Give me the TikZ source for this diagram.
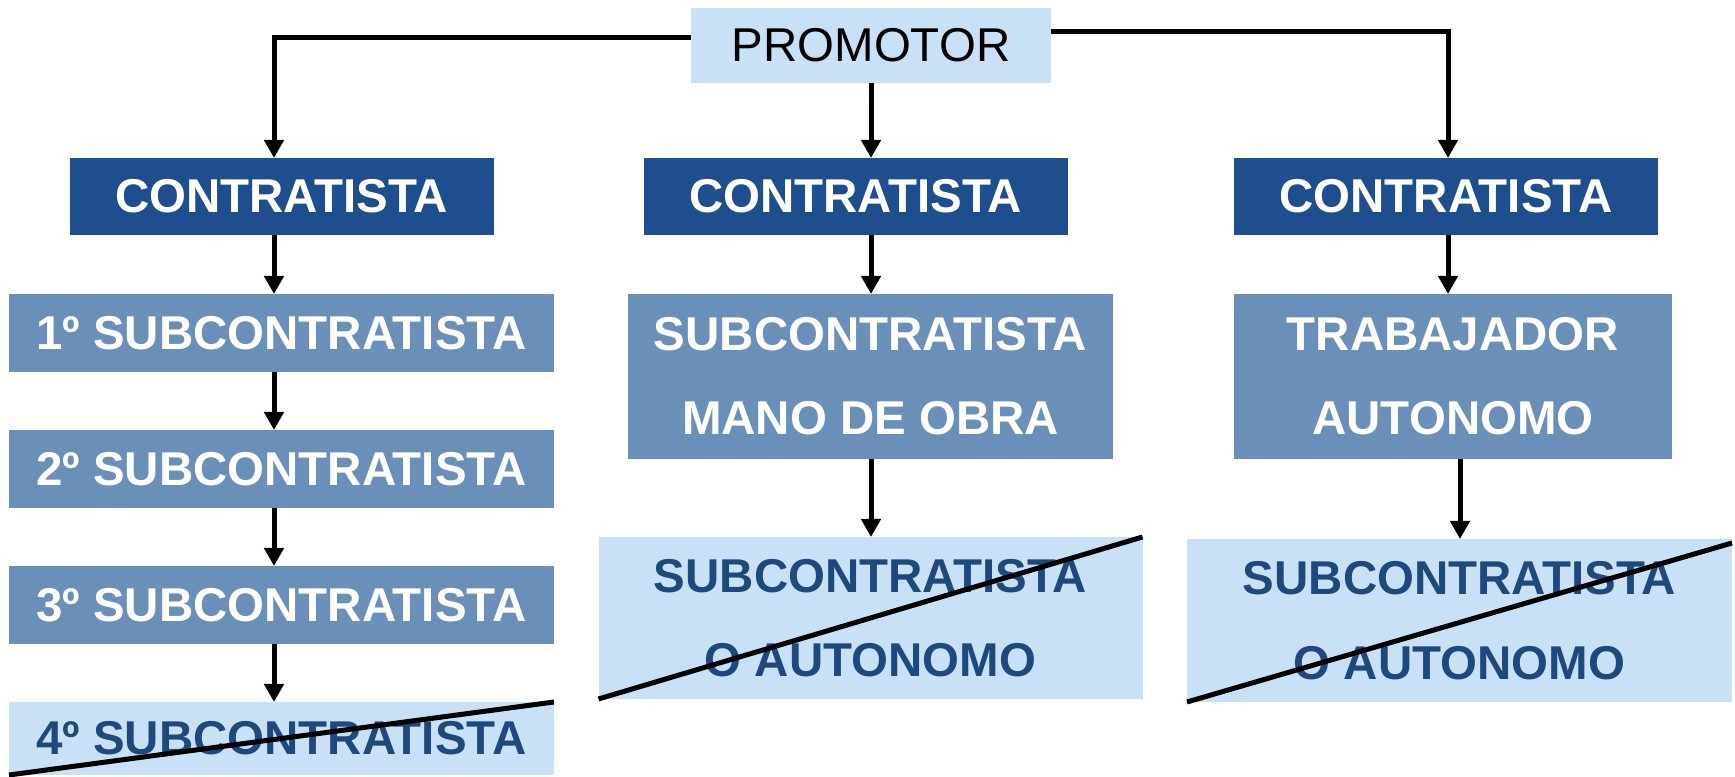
\documentclass[tikz,border=0pt]{standalone}
\usepackage{fontspec}
\setmainfont{Liberation Sans}
\usetikzlibrary{positioning,arrows.meta}
\definecolor{azulosc}{RGB}{31,78,142}
\definecolor{azulmed}{RGB}{106,143,185}
\definecolor{azulcla}{RGB}{201,225,247}
\definecolor{azultxt}{RGB}{31,73,125}

\begin{document}
\begin{tikzpicture}[
		every node/.style = {
			rectangle,
			minimum height=0.78cm,
			outer sep=0cm, inner sep=0cm,
			font=\fontsize{13.5pt}{24pt}\selectfont\bfseries,
			align=center
		},
		promo/.style = {fill=azulcla, font=\fontsize{13.5pt}{24pt}\selectfont},
		contra/.style = {fill=azulosc, text=white, minimum width=4.24cm, minimum height=0.77cm},
		subc/.style = {fill=azulmed, text=white},
		tachado/.style = {fill=azulcla, text=azultxt},
		>={Triangle[width=0.19cm,length=0.18cm]},
		line width=0.05cm
		]
		\useasboundingbox (0,0) rectangle (17.35,7.77);
		\node[promo, minimum width=3.60cm, minimum height=0.75cm] (prom) at (8.71,7.315) {PROMOTOR};
		\node[contra] (con1) at (2.815,5.805) {CONTRATISTA};
		\node[contra] (con2) at (8.555,5.805) {CONTRATISTA};
		\node[contra] (con3) at (14.46,5.805) {CONTRATISTA};
		\node[subc, minimum width=5.45cm, below=0.59cm of con1] (sub1) {1º SUBCONTRATISTA};
		\node[subc, minimum width=5.45cm, below=0.58cm of sub1] (sub2) {2º SUBCONTRATISTA};
		\node[subc, minimum width=5.45cm, below=0.58cm of sub2] (sub3) {3º SUBCONTRATISTA};
		\node[tachado, minimum width=5.45cm, minimum height=0.73cm, below=0.58cm of sub3] (sub4) {4º SUBCONTRATISTA};
		\node[subc, minimum width=4.85cm, minimum height=1.65cm, below=0.59cm of con2, xshift=0.15cm] (mano) {SUBCONTRATISTA\\MANO DE OBRA};
		\node[subc, minimum width=4.38cm, minimum height=1.65cm, below=0.59cm of con3, xshift=0.07cm] (trab) {TRABAJADOR\\AUTONOMO};
		\node[tachado, minimum width=5.44cm, minimum height=1.62cm, below=0.78cm of mano] (tach2) {SUBCONTRATISTA\\O AUTONOMO};
		\node[tachado, minimum width=5.45cm, minimum height=1.63cm, below=0.80cm of trab, xshift=0.065cm] (tach3) {SUBCONTRATISTA\\O AUTONOMO};

		% columnas de flechas
		\coordinate (colA) at (2.74,0);
		\coordinate (colB) at (8.71,0);
		\coordinate (colC) at (14.48,0);
		\coordinate (colD) at (14.60,0);

		\draw[->] ([yshift=0.08cm]prom.west) -| (con1.north -| colA);
		\draw[->] ([yshift=0.135cm]prom.east) -| (con3.north -| colC);
		\draw[->] (prom.south -| colB) -- (con2.north -| colB);

		\draw[->] (con1.south -| colA) -- (sub1.north -| colA);
		\draw[->] (sub1.south -| colA) -- (sub2.north -| colA);
		\draw[->] (sub2.south -| colA) -- (sub3.north -| colA);
		\draw[->] (sub3.south -| colA) -- (sub4.north -| colA);

		\draw[->] (con2.south -| colB) -- (mano.north -| colB);
		\draw[->] (mano.south -| colB) -- (tach2.north -| colB);

		\draw[->] (con3.south -| colC) -- (trab.north -| colC);
		\draw[->] (trab.south -| colD) -- (tach3.north -| colD);

		% tachados
		\draw (sub4.south west) -- (sub4.north east);
		\draw (tach2.south west) -- (tach2.north east);
		\draw (tach3.south west) -- ([yshift=-0.04cm]tach3.north east);
	\end{tikzpicture}
\end{document}
